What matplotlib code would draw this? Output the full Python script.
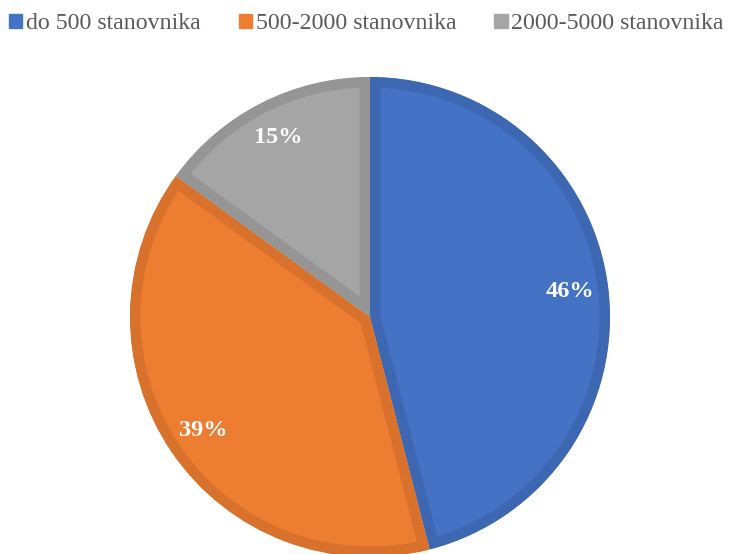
import matplotlib.pyplot as plt
from matplotlib.patches import Patch

labels = ["do 500 stanovnika", "500-2000 stanovnika", "2000-5000 stanovnika"]
values = [46, 39, 15]
colors = ["#4472C4", "#ED7D31", "#A5A5A5"]
edges = ["#3E67B1", "#D7712C", "#959595"]

plt.rcParams['font.family'] = ['Liberation Serif', 'DejaVu Serif']

fig = plt.figure(figsize=(7.44, 5.54), dpi=100)
W, H = 744, 554
cx, cy, r = 370, 317, 240
ax = fig.add_axes([(cx - r) / W, (H - cy - r) / H, 2 * r / W, 2 * r / H])

wedges, texts, autotexts = ax.pie(values, colors=colors, startangle=90, counterclock=False,
                                  autopct="%d%%", pctdistance=0.84, radius=1,
                                  textprops=dict(color="white", fontsize=17.5, fontweight="bold"))
ax.set_xlim(-1, 1)
ax.set_ylim(-1, 1)
ax.set_aspect("equal")
# border drawn only inside each slice
for w, ec in zip(wedges, edges):
    w.set_edgecolor(ec)
    w.set_linewidth(15)
    w.set_clip_path(w.get_path(), w.get_transform())
    w.set_clip_on(True)
    w.set_joinstyle("miter")

handles = [Patch(facecolor=c, edgecolor=c) for c in colors]
fig.legend(handles, labels, loc="upper left", bbox_to_anchor=(2 / W, 1 - 6 / H), ncol=3,
           frameon=False, fontsize=17.2, handlelength=0.55, handleheight=0.55,
           handletextpad=0.15, columnspacing=1.6, labelcolor="#595959",
           borderaxespad=0.0, borderpad=0.3)

fig.savefig("out.png", dpi=100)
